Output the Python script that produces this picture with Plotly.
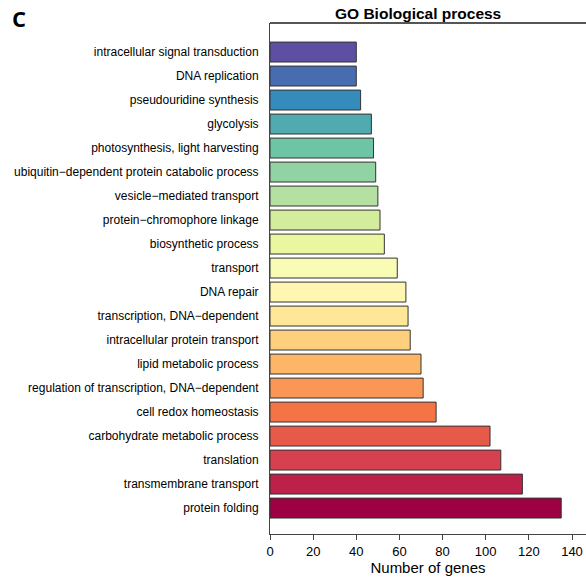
import plotly.graph_objects as go

categories = [
    "intracellular signal transduction",
    "DNA replication",
    "pseudouridine synthesis",
    "glycolysis",
    "photosynthesis, light harvesting",
    "ubiquitin\u2212dependent protein catabolic process",
    "vesicle\u2212mediated transport",
    "protein\u2212chromophore linkage",
    "biosynthetic process",
    "transport",
    "DNA repair",
    "transcription, DNA\u2212dependent",
    "intracellular protein transport",
    "lipid metabolic process",
    "regulation of transcription, DNA\u2212dependent",
    "cell redox homeostasis",
    "carbohydrate metabolic process",
    "translation",
    "transmembrane transport",
    "protein folding",
]
gene_counts = [40, 40, 42, 47, 48, 49, 50, 51, 53, 59, 63, 64, 65, 70, 71, 77, 102, 107, 117, 135]
x_ticks = [0, 20, 40, 60, 80, 100, 120, 140]

# Spectral palette ramp (style)
spectral = ["#9E0142", "#D53E4F", "#F46D43", "#FDAE61", "#FEE08B", "#FFFFBF",
            "#E6F598", "#ABDDA4", "#66C2A5", "#3288BD", "#5E4FA2"]

def ramp(cols, n):
    rgb = [tuple(int(c[i:i + 2], 16) for i in (1, 3, 5)) for c in cols]
    out = []
    for k in range(n):
        t = k * (len(rgb) - 1) / (n - 1)
        i = min(int(t), len(rgb) - 2)
        f = t - i
        r = [round(rgb[i][j] + (rgb[i + 1][j] - rgb[i][j]) * f) for j in range(3)]
        out.append("#%02X%02X%02X" % tuple(r))
    return out

n = len(categories)
colors = ramp(spectral, n)[::-1]  # top bar purple, bottom bar dark red

fig = go.Figure(go.Bar(
    x=gene_counts,
    y=categories,
    orientation="h",
    width=0.83,
    marker=dict(color=colors, line=dict(color="#333333", width=1)),
    hoverinfo="x+y",
))

W, H = 586, 580
L, T, B, R = 270, 23, 46, 0
px_per_unit = (572 - 270) / 140.0
xmax = (W - L - R) / px_per_unit

fig.update_layout(
    width=W, height=H,
    margin=dict(l=L, r=R, t=T, b=B, pad=0),
    paper_bgcolor="white", plot_bgcolor="white",
    showlegend=False,
    font=dict(family="Liberation Sans", color="black"),
    xaxis=dict(
        range=[0, xmax], tickvals=x_ticks, ticktext=[str(v) for v in x_ticks],
        showgrid=False, zeroline=False, showline=True, linecolor="#444444", linewidth=1,
        ticks="outside", ticklen=5, tickcolor="#444444", tickwidth=1,
        tickfont=dict(family="Liberation Sans", size=13, color="black"),
        title=dict(text="Number of genes", font=dict(family="Liberation Sans", size=15, color="black"), standoff=4),
    ),
    yaxis=dict(
        autorange=False, range=[n + 0.08, -1.21],
        categoryorder="array", categoryarray=categories,
        showgrid=False, zeroline=False, showline=True, linecolor="#444444", linewidth=1,
        ticks="", ticklabelstandoff=8,
        tickfont=dict(family="Liberation Sans", size=12, color="black"),
    ),
    shapes=[dict(type="line", xref="paper", yref="paper", x0=0, x1=1, y0=1, y1=1,
                 line=dict(color="#555555", width=2))],
    annotations=[
        dict(text="<b>GO Biological process</b>", xref="paper", yref="paper",
             x=(418 - L) / (W - L - R), y=1, yshift=10, xanchor="center", yanchor="middle",
             showarrow=False, font=dict(family="Liberation Sans", size=15.5, color="black")),
        dict(text="<b>C</b>", xref="paper", yref="paper",
             x=-(L - 10) / (W - L - R), y=1, yshift=5, xanchor="left", yanchor="middle",
             showarrow=False, font=dict(family="Open Sans", size=22, color="black")),
    ],
)

fig.write_html("out.html")
